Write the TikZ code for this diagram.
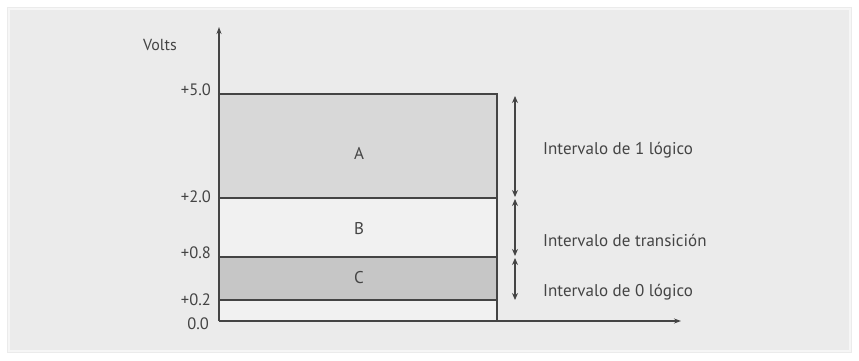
\documentclass[tikz,border=0pt]{standalone}
\usepackage{fontspec}
\setmainfont{PT Sans}
\usetikzlibrary{arrows.meta}
\definecolor{panel}{HTML}{EBEBEB}
\definecolor{panelline}{HTML}{F6F6F6}
\definecolor{ink}{HTML}{444444}
\definecolor{fillA}{HTML}{D8D8D8}
\definecolor{fillB}{HTML}{F1F1F1}
\definecolor{fillC}{HTML}{C6C6C6}
\tikzset{
  axisline/.style={draw=ink, line width=1.3pt, -{Stealth[length=7pt,width=5pt]}},
  bandline/.style={draw=ink, line width=1.1pt},
  dimarrow/.style={draw=ink, line width=1.1pt, {Stealth[length=7pt,width=6pt]}-{Stealth[length=7pt,width=6pt]}},
  ticklabel/.style={text=ink, font=\fontsize{16.5}{18}\selectfont, anchor=east, inner sep=0pt},
  bandlabel/.style={text=ink, font=\fontsize{17}{19}\selectfont, inner sep=0pt},
  sidelabel/.style={text=ink, font=\fontsize{17}{19}\selectfont, anchor=west, inner sep=0pt},
}
\begin{document}
\begin{tikzpicture}[x=1pt,y=-1pt]
\useasboundingbox (0,0) rectangle (859,360);
\fill[white] (0,0) rectangle (859,360);
\fill[panel] (7,7) rectangle (852,353);
\draw[panelline, line width=1.5pt] (9,9) rectangle (850,351);
% bands
\fill[fillA] (219,94) rectangle (497,198);
\fill[fillB] (219,198) rectangle (497,257);
\fill[fillC] (219,257) rectangle (497,300);
\fill[fillB] (219,300) rectangle (497,321);
\draw[bandline] (219,94) -- (497,94) -- (497,321);
\draw[bandline] (219,198) -- (497,198);
\draw[bandline] (219,257) -- (497,257);
\draw[bandline] (219,300) -- (497,300);
% axes
\coordinate (o) at (219,321);
\coordinate (ytop) at (219,27);
\coordinate (xend) at (681,321);
\draw[axisline] (o) -- (ytop);
\draw[axisline] (o) -- (xend);
\node[text=ink, font=\fontsize{16}{18}\selectfont, inner sep=0pt] (volts) at (160,45) {Volts};
\node[ticklabel] (t5) at (211,90) {+5.0};
\node[ticklabel] (t2) at (211,197) {+2.0};
\node[ticklabel] (t08) at (211,253) {+0.8};
\node[ticklabel] (t02) at (211,300) {+0.2};
\node[ticklabel] (t0) at (209,324) {0.0};
\node[bandlabel] (A) at (359,153) {A};
\node[bandlabel] (B) at (359,229) {B};
\node[bandlabel] (C) at (359,278) {C};
% dimension arrows
\coordinate (d1) at (515,96);
\coordinate (d2) at (515,198);
\coordinate (d3) at (515,257);
\coordinate (d4) at (515,300);
\draw[dimarrow] (d1) -- ([yshift=1pt]d2);
\draw[dimarrow] ([yshift=-1pt]d2) -- ([yshift=1pt]d3);
\draw[dimarrow] ([yshift=-1pt]d3) -- (d4);
\node[sidelabel] (l1) at (543,150) {Intervalo de 1 lógico};
\node[sidelabel] (l2) at (543,240) {Intervalo de transición};
\node[sidelabel] (l3) at (543,292) {Intervalo de 0 lógico};
\end{tikzpicture}
\end{document}
